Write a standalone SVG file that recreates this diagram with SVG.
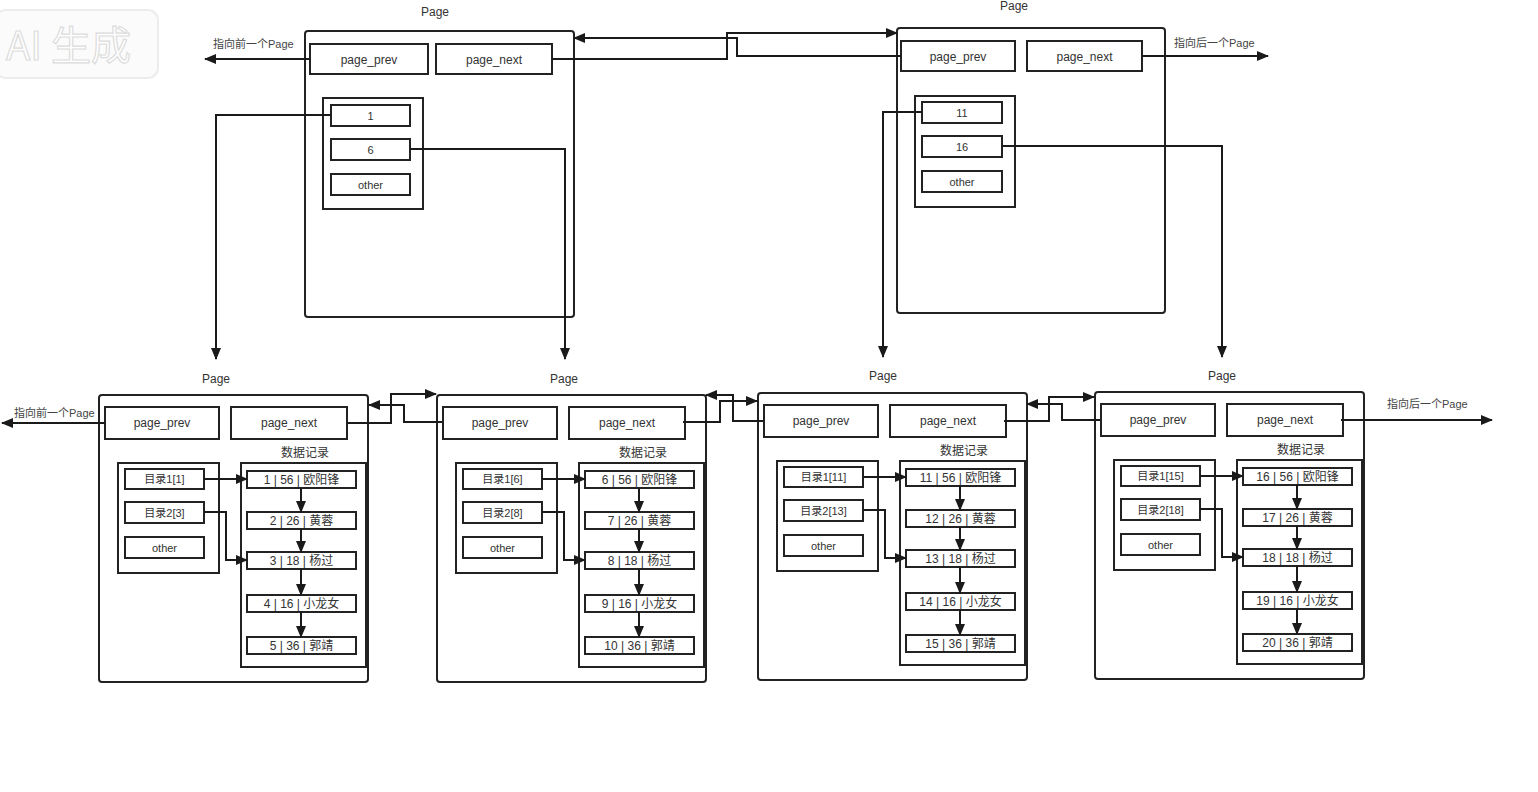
<svg xmlns="http://www.w3.org/2000/svg" width="1538" height="792" viewBox="0 0 1538 792">
<defs>
<style>
.pg{fill:none;stroke:#222;stroke-width:2}
.bx{fill:#fff;stroke:#222;stroke-width:2}
.in{fill:none;stroke:#222;stroke-width:2}
.ln{fill:none;stroke:#1a1a1a;stroke-width:2;marker-end:url(#ah)}
.t{font-family:"Liberation Sans","Noto Sans CJK SC",sans-serif;font-size:12px;fill:#333;text-anchor:middle}
.s{font-size:11px}
.r{font-size:12px}
.lab{font-family:"Liberation Sans","Noto Sans CJK SC",sans-serif;font-size:11px;fill:#444}
.wm{font-family:"Noto Sans CJK SC",sans-serif;font-size:40px;fill:#fff;stroke:#dcdcdc;stroke-width:1.2}
</style>
<marker id="ah" markerUnits="userSpaceOnUse" markerWidth="12" markerHeight="10" refX="11" refY="5" orient="auto">
<path d="M0,0 L12,5 L0,10 z" fill="#1a1a1a"/>
</marker>
<g id="bottomTpl">
<rect class="pg" x="0" y="0" width="269" height="287" rx="3"/>
<rect class="bx" x="6" y="12" width="114" height="32"/>
<rect class="bx" x="132" y="12" width="116" height="32"/>
<text class="t" x="63" y="32">page_prev</text>
<text class="t" x="190" y="32">page_next</text>
<text class="t" x="206" y="62">数据记录</text>
<rect class="in" x="19" y="68" width="101" height="110"/>
<rect class="bx" x="26" y="74" width="79" height="20"/>
<rect class="bx" x="26" y="107" width="79" height="21"/>
<rect class="bx" x="26" y="142" width="79" height="21"/>
<text class="t s" x="65.5" y="157">other</text>
<rect class="in" x="142" y="68" width="125" height="204"/>
<rect class="bx" x="148" y="76" width="109" height="17"/>
<rect class="bx" x="148" y="117" width="109" height="17"/>
<rect class="bx" x="148" y="157" width="109" height="17"/>
<rect class="bx" x="148" y="200" width="109" height="17"/>
<rect class="bx" x="148" y="242" width="109" height="17"/>
<path class="ln" d="M202,93 V117"/>
<path class="ln" d="M202,134 V157"/>
<path class="ln" d="M202,174 V200"/>
<path class="ln" d="M202,217 V242"/>
<path class="ln" d="M105,84 H148"/>
<path class="ln" d="M105,117 H127 V165 H148"/>
</g>
</defs>
<rect width="1538" height="792" fill="#fff"/>

<g id="watermark">
<rect x="-4" y="10" width="162" height="68" rx="10" fill="#fbfbfb" stroke="#ececec" stroke-width="2"/>
<text class="wm" x="6" y="60">AI 生成</text>
</g>

<g id="pageA">
<text class="t" x="435" y="16">Page</text>
<rect class="pg" x="305" y="31" width="269" height="286" rx="3"/>
<rect class="bx" x="310" y="44" width="118" height="30"/>
<text class="t" x="369" y="64">page_prev</text>
<rect class="bx" x="436" y="44" width="116" height="30"/>
<text class="t" x="494" y="64">page_next</text>
<rect class="in" x="323" y="98" width="100" height="111"/>
<rect class="bx" x="331" y="105" width="79" height="21"/>
<text class="t s" x="370.5" y="120">1</text>
<rect class="bx" x="331" y="139" width="79" height="21"/>
<text class="t s" x="370.5" y="154">6</text>
<rect class="bx" x="331" y="174" width="79" height="21"/>
<text class="t s" x="370.5" y="189">other</text>
</g>

<g id="pageB">
<text class="t" x="1014" y="10">Page</text>
<rect class="pg" x="897" y="28" width="268" height="285" rx="3"/>
<rect class="bx" x="901" y="41" width="114" height="30"/>
<text class="t" x="958" y="61">page_prev</text>
<rect class="bx" x="1027" y="41" width="115" height="30"/>
<text class="t" x="1084.5" y="61">page_next</text>
<rect class="in" x="915" y="96" width="100" height="111"/>
<rect class="bx" x="922" y="102" width="80" height="21"/>
<text class="t s" x="962" y="117">11</text>
<rect class="bx" x="922" y="136" width="80" height="21"/>
<text class="t s" x="962" y="151">16</text>
<rect class="bx" x="922" y="171" width="80" height="21"/>
<text class="t s" x="962" y="186">other</text>
</g>

<g id="pageC" transform="translate(99,395)">
<text class="t" x="117" y="-12">Page</text>
<use href="#bottomTpl"/>
<text class="t s" x="65.5" y="88">目录1[1]</text>
<text class="t s" x="65.5" y="122">目录2[3]</text>
<text class="t r" x="202.5" y="89">1 | 56 | 欧阳锋</text>
<text class="t r" x="202.5" y="130">2 | 26 | 黄蓉</text>
<text class="t r" x="202.5" y="170">3 | 18 | 杨过</text>
<text class="t r" x="202.5" y="213">4 | 16 | 小龙女</text>
<text class="t r" x="202.5" y="255">5 | 36 | 郭靖</text>
</g>

<g id="pageD" transform="translate(437,395)">
<text class="t" x="127" y="-12">Page</text>
<use href="#bottomTpl"/>
<text class="t s" x="65.5" y="88">目录1[6]</text>
<text class="t s" x="65.5" y="122">目录2[8]</text>
<text class="t r" x="202.5" y="89">6 | 56 | 欧阳锋</text>
<text class="t r" x="202.5" y="130">7 | 26 | 黄蓉</text>
<text class="t r" x="202.5" y="170">8 | 18 | 杨过</text>
<text class="t r" x="202.5" y="213">9 | 16 | 小龙女</text>
<text class="t r" x="202.5" y="255">10 | 36 | 郭靖</text>
</g>

<g id="pageE" transform="translate(758,393)">
<text class="t" x="125" y="-13">Page</text>
<use href="#bottomTpl"/>
<text class="t s" x="65.5" y="88">目录1[11]</text>
<text class="t s" x="65.5" y="122">目录2[13]</text>
<text class="t r" x="202.5" y="89">11 | 56 | 欧阳锋</text>
<text class="t r" x="202.5" y="130">12 | 26 | 黄蓉</text>
<text class="t r" x="202.5" y="170">13 | 18 | 杨过</text>
<text class="t r" x="202.5" y="213">14 | 16 | 小龙女</text>
<text class="t r" x="202.5" y="255">15 | 36 | 郭靖</text>
</g>

<g id="pageF" transform="translate(1095,392)">
<text class="t" x="127" y="-12">Page</text>
<use href="#bottomTpl"/>
<text class="t s" x="65.5" y="88">目录1[15]</text>
<text class="t s" x="65.5" y="122">目录2[18]</text>
<text class="t r" x="202.5" y="89">16 | 56 | 欧阳锋</text>
<text class="t r" x="202.5" y="130">17 | 26 | 黄蓉</text>
<text class="t r" x="202.5" y="170">18 | 18 | 杨过</text>
<text class="t r" x="202.5" y="213">19 | 16 | 小龙女</text>
<text class="t r" x="202.5" y="255">20 | 36 | 郭靖</text>
</g>

<g id="connectors">
<path class="ln" d="M310,59 H205"/>
<text class="lab" x="213" y="48">指向前一个Page</text>
<path class="ln" d="M552,59 H727 V33 H897"/>
<path class="ln" d="M901,56 H737 V38 H574"/>
<path class="ln" d="M1142,56 H1268"/>
<text class="lab" x="1174" y="47">指向后一个Page</text>
<path class="ln" d="M331,115 H216 V359"/>
<path class="ln" d="M410,149 H565 V359"/>
<path class="ln" d="M922,112 H883 V357"/>
<path class="ln" d="M1002,146 H1222 V357"/>

<path class="ln" d="M105,423 H2"/>
<text class="lab" x="14" y="417">指向前一个Page</text>
<path class="ln" d="M347,423 H391 V394 H436"/>
<path class="ln" d="M442,422 H404 V405 H369"/>
<path class="ln" d="M683,422 H720 V401 H757"/>
<path class="ln" d="M763,421 H733 V395 H706"/>
<path class="ln" d="M1004,421 H1049 V397 H1094"/>
<path class="ln" d="M1100,420 H1062 V404 H1027"/>
<path class="ln" d="M1341,420 H1492"/>
<text class="lab" x="1387" y="408">指向后一个Page</text>
</g>
</svg>
